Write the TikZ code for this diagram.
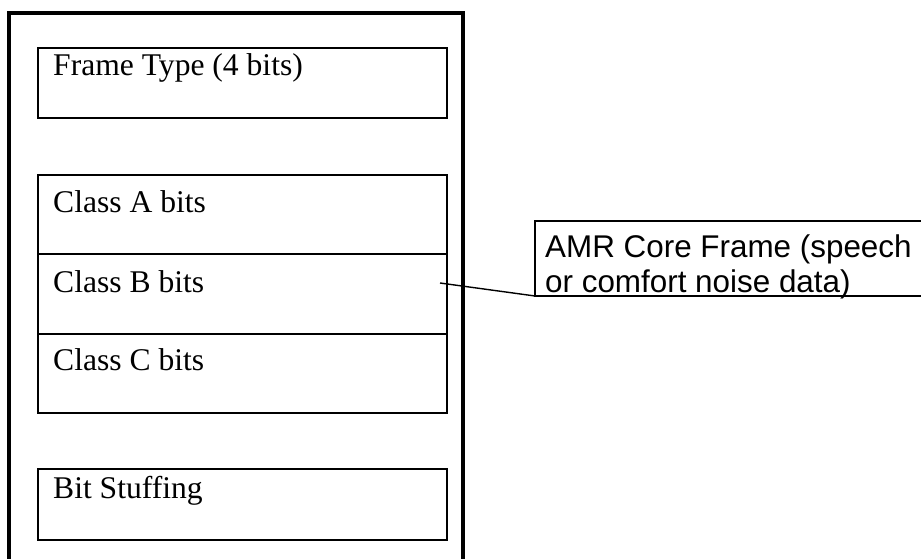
\documentclass[tikz,border=0pt]{standalone}
\usepackage{fontspec}
\setmainfont{Liberation Serif}
\newfontfamily\calloutfont{Liberation Sans}
\begin{document}
\begin{tikzpicture}[x=1pt,y=-1pt,
  outer/.style={draw,line width=3.2pt},
  field/.style={draw,line width=1.6pt,inner sep=0pt},
  fieldtext/.style={anchor=base west,inner sep=0pt,font=\fontsize{31.6}{36}\selectfont},
  callout/.style={draw,line width=1.6pt},
  callouttext/.style={anchor=base west,inner sep=0pt,align=left,
    font=\calloutfont\fontsize{31.4}{35}\selectfont},
  leader/.style={line width=1.4pt}]
\useasboundingbox (0,0) rectangle (921,559);
\clip (0,0) rectangle (921,559);

% frame outline
\draw[outer] (9,13) rectangle (463,600);

% fields of the frame
\draw[field] (38,48) rectangle (447,118);
\node[fieldtext] (ft) at (53,76) {Frame Type (4 bits)};

\draw[field] (38,175) rectangle (447,413);
\draw[field] (38,254) -- (447,254);
\draw[field] (38,334) -- (447,334);
\node[fieldtext] (ca) at (53,212) {Class A bits};
\node[fieldtext] (cb) at (53,292) {Class B bits};
\node[fieldtext] (cc) at (53,370) {Class C bits};

\draw[field] (38,469) rectangle (447,540);
\node[fieldtext] (bs) at (53,498) {Bit Stuffing};

% callout for the core frame
\draw[callout] (960,221) -- (535,221) -- (535,296) -- (960,296);
\coordinate (calloutSW) at (535,296);
\node[callouttext] (amr) at (545,257) {AMR Core Frame (speech};
\node[callouttext] (amr2) at (545,292) {or comfort noise data)};

% leader line into the class B field
\coordinate (cbpoint) at (440,283);
\draw[leader] (cbpoint) -- (calloutSW);
\end{tikzpicture}
\end{document}
